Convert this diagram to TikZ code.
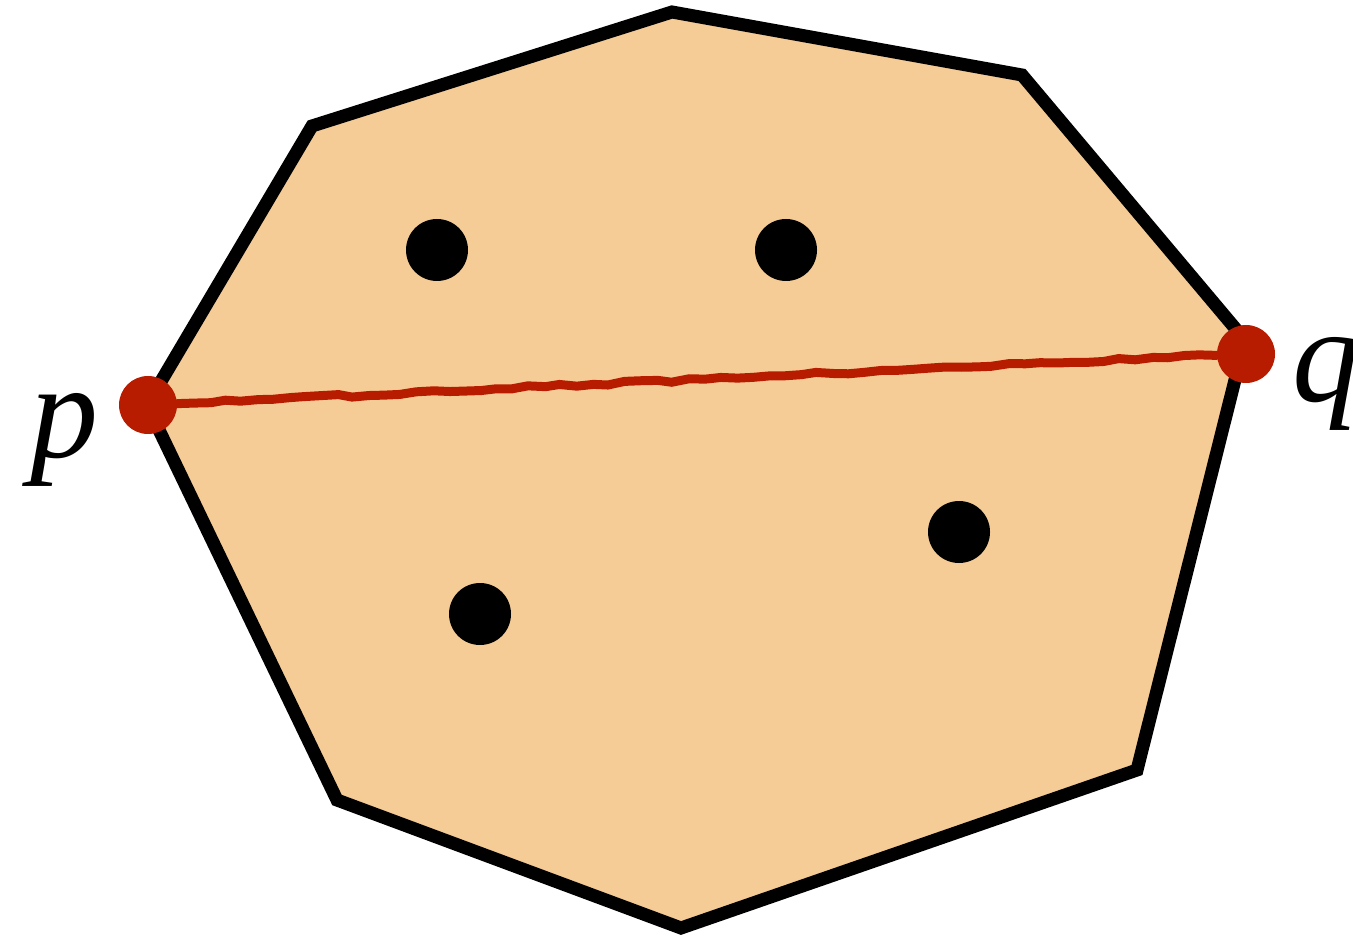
\documentclass[tikz,border=0pt]{standalone}
\usepackage{fontspec}
\setmainfont{Liberation Serif}
\usepackage{tikz}
\usetikzlibrary{decorations.pathmorphing}
\definecolor{hullfill}{HTML}{F5CB96}
\definecolor{pathred}{HTML}{B71C00}

\begin{document}
\begin{tikzpicture}[x=0.5pt,y=-0.5pt,
  pt/.style={circle,fill=black,inner sep=0pt,minimum size=31pt},
  endpt/.style={circle,fill=pathred,inner sep=0pt,minimum size=29pt},
  lbl/.style={font=\fontsize{68}{68}\selectfont\itshape}]
\useasboundingbox (0,0) rectangle (1353,940);
% hull
\draw[line width=6.5pt,fill=hullfill,line join=miter]
  (672,12) -- (1022,75) -- (1245,340) -- (1137,770) -- (681,928)
  -- (337,800) -- (147,405) -- (312,126) -- cycle;
% points inside
\node[pt] (a) at (437,250) {};
\node[pt] (b) at (786,250) {};
\node[pt] (c) at (959,532) {};
\node[pt] (d) at (480,614) {};
% segment p--q
\node[endpt] (p) at (148,405) {};
\node[endpt] (q) at (1246,354) {};
\draw[pathred,line width=4.5pt,line cap=round,
  decorate,decoration={random steps,segment length=8pt,amplitude=0.8pt}]
  (p) -- (q);
\node[lbl] (plbl) at (64,440) {p};
\node[lbl] (qlbl) at (1326,384) {q};
\end{tikzpicture}
\end{document}
